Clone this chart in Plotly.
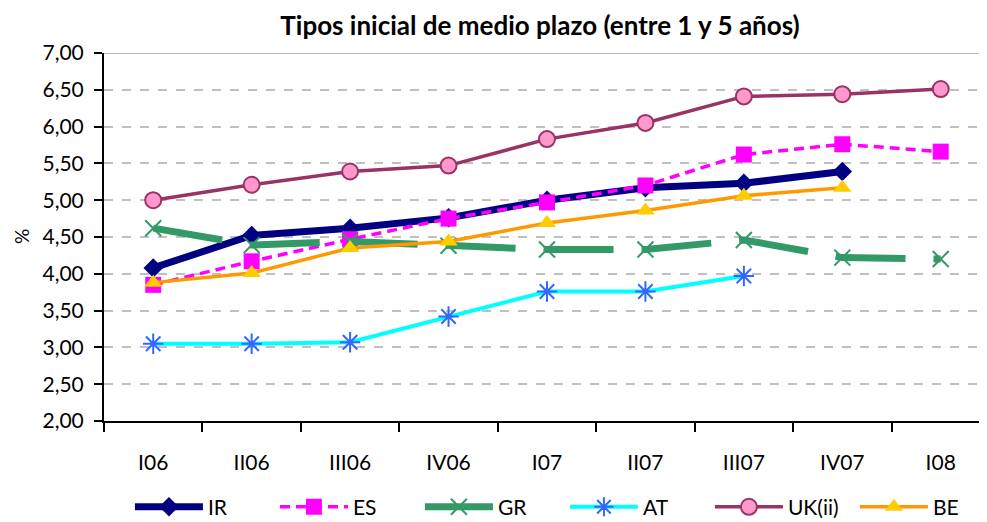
import plotly.graph_objects as go

categories = ["I06", "II06", "III06", "IV06", "I07", "II07", "III07", "IV07", "I08"]
IR = [4.08, 4.52, 4.62, 4.76, 5.00, 5.17, 5.23, 5.39, None]
ES = [3.85, 4.17, 4.47, 4.75, 4.97, 5.20, 5.62, 5.76, 5.66]
GR = [4.62, 4.39, 4.44, 4.38, 4.33, 4.33, 4.46, 4.22, 4.20]
AT = [3.05, 3.05, 3.07, 3.42, 3.76, 3.76, 3.97, None, None]
UK = [5.00, 5.21, 5.39, 5.47, 5.83, 6.05, 6.41, 6.44, 6.51]
BE = [3.88, 4.01, 4.35, 4.44, 4.69, 4.86, 5.06, 5.17, None]
yticks = [2.0, 2.5, 3.0, 3.5, 4.0, 4.5, 5.0, 5.5, 6.0, 6.5, 7.0]
ytick_labels = ["2,00", "2,50", "3,00", "3,50", "4,00", "4,50", "5,00", "5,50", "6,00", "6,50", "7,00"]

FONT = "Lato"
W, H = 979, 514
fig = go.Figure()

fig.add_trace(go.Scatter(x=categories, y=IR, name="IR", mode="lines+markers",
                         line=dict(color="#000080", width=7),
                         marker=dict(symbol="diamond", size=15, color="#000080")))
fig.add_trace(go.Scatter(x=categories, y=ES, name="ES", mode="lines+markers",
                         line=dict(color="#FF00FF", width=3.5, dash="10px,6px"),
                         marker=dict(symbol="square", size=16, color="#FF00FF")))
fig.add_trace(go.Scatter(x=categories, y=GR, name="GR", mode="lines+markers",
                         line=dict(color="#339966", width=7, dash="70px,28px"),
                         marker=dict(symbol="x-thin-open", size=16, color="#339966",
                                     line=dict(color="#339966", width=2))))
fig.add_trace(go.Scatter(x=categories, y=AT, name="AT", mode="lines+markers",
                         line=dict(color="#00FFFF", width=4),
                         marker=dict(symbol="asterisk-open", size=17, color="#3366FF",
                                     line=dict(color="#3366FF", width=2))))
fig.add_trace(go.Scatter(x=categories, y=UK, name="UK(ii)", mode="lines+markers",
                         line=dict(color="#993366", width=3.5),
                         marker=dict(symbol="circle", size=16, color="#FF99CC",
                                     line=dict(color="#993366", width=2))))
fig.add_trace(go.Scatter(x=categories, y=BE, name="BE", mode="lines+markers",
                         line=dict(color="#FF9900", width=3.5),
                         marker=dict(symbol="triangle-up", size=16, color="#FFCC00")))

fig.add_shape(type="line", xref="paper", yref="y", x0=0, x1=1, y0=7.0, y1=7.0,
              line=dict(color="#A0A0A0", width=1.5))

fig.add_annotation(text="%", xref="paper", yref="paper", x=-83 / 883, y=0.5,
                   xanchor="center", yanchor="middle", textangle=-90, showarrow=False,
                   borderpad=0, font=dict(family=FONT, size=19, color="black"))

fig.update_layout(
    width=W, height=H,
    margin=dict(l=96, r=0, t=45, b=101, autoexpand=False),
    paper_bgcolor="white", plot_bgcolor="white",
    font=dict(family=FONT, size=21, color="black"),
    title=dict(text="<b>Tipos inicial de medio plazo (entre 1 y 5 años)</b>",
               x=532 / W, xanchor="center", y=1 - 18 / H, yanchor="middle",
               font=dict(family=FONT, size=26, color="black")),
    showlegend=True,
    legend=dict(orientation="h", x=0.522, xanchor="center", y=-0.234, yanchor="middle",
                font=dict(family=FONT, size=21), itemwidth=68,
                entrywidth=62, entrywidthmode="pixels",
                traceorder="normal"),
)
fig.update_xaxes(type="category", range=[-0.5, 8.47], showline=True, linecolor="black",
                 linewidth=2, ticks="outside", tickson="boundaries", ticklen=9,
                 tickwidth=2, tickcolor="black", showgrid=False, zeroline=False,
                 automargin=False, ticklabelstandoff=22,
                 tickfont=dict(family=FONT, size=21))
fig.update_yaxes(range=[2.0, 7.0], tickvals=yticks, ticktext=ytick_labels,
                 showline=True, linecolor="black", linewidth=2, ticks="outside",
                 ticklen=8, tickwidth=2, tickcolor="black", automargin=False,
                 showgrid=True, gridcolor="#C0C0C0", griddash="dash", gridwidth=1.5,
                 zeroline=False, ticklabelstandoff=6,
                 tickfont=dict(family=FONT, size=21))

fig.write_html("out.html")
